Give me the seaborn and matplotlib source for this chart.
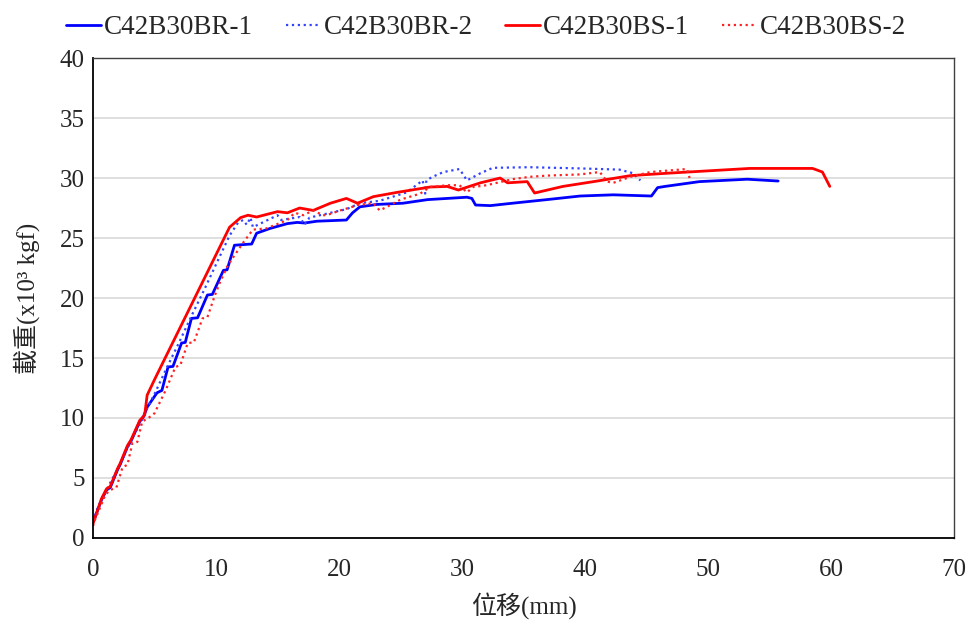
import matplotlib
matplotlib.use("Agg")
import matplotlib.pyplot as plt
import seaborn as sns
import pandas as pd

labels = ["C42B30BR-1", "C42B30BR-2", "C42B30BS-1", "C42B30BS-2"]

br1_x = [0, 0.3, 0.7, 1.1, 1.4, 2.0, 2.2, 2.8, 3.1, 3.8, 4.1, 4.4, 4.8, 5.2, 5.6,
         6.1, 6.5, 7.2, 7.5, 8.0, 8.5, 9.3, 9.7, 10.6, 10.9, 11.5, 12.9, 13.3, 14.4, 15.8,
         16.6, 17.2, 18.2, 20.6, 21.1, 21.7, 23.1, 25.2, 27.2, 28.8, 30.4, 30.8, 31.1, 32.3,
         34.1, 36.9, 39.6, 42.3, 45.4, 45.9, 46.5, 49.3, 53.2, 55.7]
br1_y = [1.3, 2.1, 3.2, 4.0, 4.2, 5.7, 6.1, 7.6, 8.1, 9.7, 10.1, 10.9, 11.5, 12.1, 12.3,
         14.25, 14.3, 16.25, 16.3, 18.3, 18.35, 20.25, 20.3, 22.3, 22.35, 24.4, 24.5, 25.4, 25.8, 26.2,
         26.3, 26.25, 26.4, 26.5, 27.1, 27.6, 27.8, 27.9, 28.2, 28.3, 28.4, 28.3, 27.75, 27.7,
         27.9, 28.2, 28.5, 28.6, 28.5, 29.2, 29.3, 29.7, 29.9, 29.75]

br2_x = [0, 0.4, 1.0, 1.5, 2.1, 2.8, 3.4, 4.0, 4.3, 5.0, 6.0, 7.0, 8.0, 9.0, 10.0,
         11.1, 11.8, 12.2, 12.5, 12.8, 13.0, 15.0, 15.3, 16.8, 17.2, 17.6, 19.3, 20.6, 21.7,
         23.3, 25.5, 26.8, 27.0, 27.1, 27.6, 28.5, 29.8, 30.4, 31.5, 32.5, 35.5, 39.6, 42.8,
         43.9, 44.5]
br2_y = [1.4, 2.6, 3.8, 4.8, 5.9, 7.5, 8.7, 9.9, 10.6, 12.0, 14.2, 16.3, 18.5, 20.6, 22.8,
         25.2, 26.3, 26.5, 26.1, 26.7, 25.9, 26.9, 26.5, 26.75, 26.1, 26.7, 27.1, 27.4, 27.9,
         28.1, 28.8, 29.8, 28.7, 29.8, 30.1, 30.5, 30.75, 29.8, 30.4, 30.85, 30.9, 30.8, 30.7,
         30.4, 29.8]

bs1_x = [0, 0.3, 0.7, 1.1, 1.4, 2.0, 2.2, 2.8, 3.1, 3.8, 4.2, 4.4, 5.0, 11.1, 12.0,
         12.6, 13.3, 15.0, 15.8, 16.8, 17.9, 19.3, 20.6, 21.5, 22.8, 24.7, 27.4, 28.8, 29.7,
         31.5, 33.1, 33.7, 35.3, 35.9, 38.2, 41.0, 43.7, 46.7, 53.4, 58.5, 59.3, 59.9]
bs1_y = [1.2, 2.1, 3.3, 4.1, 4.3, 5.8, 6.2, 7.7, 8.2, 9.8, 10.25, 11.9, 13.2, 25.9, 26.7,
         26.9, 26.75, 27.2, 27.1, 27.5, 27.3, 27.9, 28.3, 27.9, 28.45, 28.8, 29.25, 29.3, 29.0,
         29.6, 30.0, 29.6, 29.7, 28.75, 29.3, 29.75, 30.2, 30.4, 30.8, 30.8, 30.5, 29.3]

bs2_x = [0, 0.15, 0.6, 1.0, 1.4, 1.9, 2.4, 2.8, 3.2, 3.6, 4.0, 4.8, 5.0, 5.9, 6.7,
         7.1, 7.7, 8.2, 8.9, 9.3, 9.9, 10.3, 10.9, 11.4, 12.2, 13.0, 14.1, 15.2, 15.8, 16.4,
         17.1, 17.9, 18.7, 19.0, 20.1, 21.1, 21.5, 22.8, 23.3, 23.9, 25.0, 26.6, 27.4, 28.8,
         29.8, 30.4, 30.9, 32.0, 34.1, 35.5, 36.9, 39.6, 41.2, 41.8, 42.3, 43.7, 45.3, 48.3, 48.5]
bs2_y = [1.0, 1.5, 2.6, 3.6, 4.0, 4.2, 5.9, 6.1, 7.9, 8.0, 9.7, 10.2, 10.4, 12.3, 14.25,
         14.4, 16.25, 16.3, 18.3, 18.4, 20.2, 21.25, 22.6, 23.4, 24.6, 25.7, 25.8, 26.25, 26.5, 27.1,
         26.9, 27.3, 26.9, 26.9, 27.3, 27.6, 27.75, 27.9, 27.3, 27.6, 28.2, 28.7, 29.25, 29.4,
         29.4, 28.8, 29.25, 29.4, 29.9, 30.1, 30.2, 30.3, 30.5, 29.7, 29.6, 30.1, 30.5, 30.75, 30.0]

xticks = [0, 10, 20, 30, 40, 50, 60, 70]
yticks = [0, 5, 10, 15, 20, 25, 30, 35, 40]
xlabel = "位移(mm)"
ylabel = "載重(x10³ kgf)"

sns.set_style("white")
fams = ["Liberation Serif", "Noto Sans CJK TC", "DejaVu Sans"]
plt.rcParams["font.family"] = fams

fig = plt.figure(figsize=(9.72, 6.26), dpi=100)
ax = fig.add_axes([0.0957, 0.1406, 0.8858, 0.7667])

series = [(br1_x, br1_y, "#0000FF", "-", 2.0),
          (br2_x, br2_y, "#3344FF", ":", 1.6),
          (bs1_x, bs1_y, "#FF0000", "-", 2.0),
          (bs2_x, bs2_y, "#FF2222", ":", 1.6)]

for (xs, ys, c, ls, lw), lab in zip(series, labels):
    df = pd.DataFrame({"x": xs, "y": ys})
    sns.lineplot(data=df, x="x", y="y", ax=ax, color=c, linestyle=ls, linewidth=lw,
                 sort=False, estimator=None, label=lab)

ax.set_xlim(0, 70)
ax.set_ylim(0, 40)
ax.set_xticks(xticks)
ax.set_yticks(yticks)
ax.yaxis.grid(True, color="#d9d9d9", linewidth=1.2)
ax.xaxis.grid(False)
ax.set_axisbelow(True)
ax.tick_params(axis="both", labelsize=18, direction="out", width=1, color="black")
ax.tick_params(axis="x", length=4, pad=11)
ax.tick_params(axis="y", length=4, pad=2)
for s in ["left", "bottom"]:
    ax.spines[s].set_color("black")
    ax.spines[s].set_linewidth(1.3)
for s in ["top", "right"]:
    ax.spines[s].set_color("#404040")
    ax.spines[s].set_linewidth(1.0)
ax.set_xlabel(xlabel, fontsize=18, labelpad=8)
ax.set_ylabel(ylabel, fontsize=18, labelpad=14)

ax.get_legend().remove()
h, l = ax.get_legend_handles_labels()
fig.legend(h, l, loc="upper center", bbox_to_anchor=(0.5, 1.015), ncol=4, frameon=False,
           fontsize=19.5, handlelength=1.3, columnspacing=1.2, handletextpad=0.1)

fig.savefig("out.png", dpi=100)
